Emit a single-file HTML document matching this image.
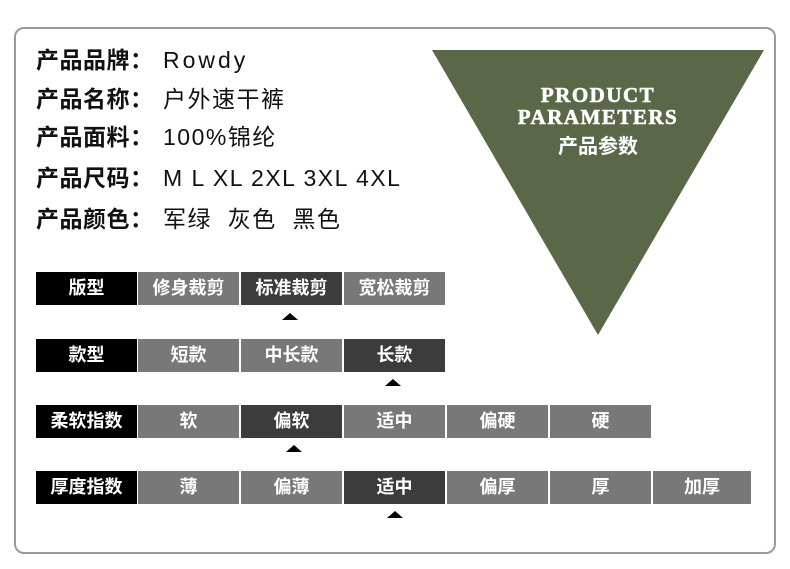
<!DOCTYPE html>
<html><head><meta charset="utf-8"><style>
body{margin:0;width:790px;height:569px;background:#fff;position:relative;overflow:hidden;font-family:"Liberation Sans","Noto Sans CJK SC",sans-serif}
.frame{position:absolute;left:14px;top:27px;width:758px;height:523px;border:2px solid #9a9a9a;border-radius:10px}
.line{position:absolute;left:36px;font-size:23px;color:#111;white-space:nowrap;line-height:26px}
.line b{font-weight:bold;display:inline-block;width:127px;letter-spacing:0.5px}
.line span{letter-spacing:1.5px}
.c{position:absolute;height:33px;line-height:33px;text-align:center;color:#fff;font-weight:bold;font-size:18px;width:101px}
.k{background:#000}.g{background:#787878}.d{background:#3c3c3c}
.a{position:absolute;width:0;height:0;border-left:8px solid transparent;border-right:8px solid transparent;border-bottom:7px solid #000}
</style></head><body>
<div class="frame"></div>
<svg style="position:absolute;left:0;top:0" width="790" height="569"><polygon points="432,50 764,50 598,335" fill="#5a6848"/></svg>
<div style="position:absolute;left:448px;top:84px;width:300px;text-align:center;color:#fff;font-family:'Liberation Serif','Noto Serif CJK SC',serif;font-weight:900;font-size:21px;line-height:22px;letter-spacing:1.5px;-webkit-text-stroke:0.6px #fff">PRODUCT<br>PARAMETERS</div>
<div style="position:absolute;left:498px;top:130px;width:200px;text-align:center;color:#fff;font-weight:bold;font-size:20px">产品参数</div>
<div class="line" style="top:47px"><b>产品品牌：</b><span style="letter-spacing:3px">Rowdy</span></div>
<div class="line" style="top:86px"><b>产品名称：</b><span>户外速干裤</span></div>
<div class="line" style="top:124px"><b>产品面料：</b><span>100%锦纶</span></div>
<div class="line" style="top:165px"><b>产品尺码：</b><span>M L XL 2XL 3XL 4XL</span></div>
<div class="line" style="top:206px"><b>产品颜色：</b><span>军绿&nbsp; 灰色&nbsp; 黑色</span></div>

<div class="c k" style="left:36px;top:272px">版型</div>
<div class="c g" style="left:138px;top:272px">修身裁剪</div>
<div class="c d" style="left:241px;top:272px">标准裁剪</div>
<div class="c g" style="left:344px;top:272px">宽松裁剪</div>
<div class="a" style="left:282px;top:313px"></div>

<div class="c k" style="left:36px;top:339px">款型</div>
<div class="c g" style="left:138px;top:339px">短款</div>
<div class="c g" style="left:241px;top:339px">中长款</div>
<div class="c d" style="left:344px;top:339px">长款</div>
<div class="a" style="left:385px;top:379px"></div>

<div class="c k" style="left:36px;top:405px">柔软指数</div>
<div class="c g" style="left:138px;top:405px">软</div>
<div class="c d" style="left:241px;top:405px">偏软</div>
<div class="c g" style="left:344px;top:405px">适中</div>
<div class="c g" style="left:447px;top:405px">偏硬</div>
<div class="c g" style="left:550px;top:405px">硬</div>
<div class="a" style="left:286px;top:445px"></div>

<div class="c k" style="left:36px;top:471px">厚度指数</div>
<div class="c g" style="left:138px;top:471px">薄</div>
<div class="c g" style="left:241px;top:471px">偏薄</div>
<div class="c d" style="left:344px;top:471px">适中</div>
<div class="c g" style="left:447px;top:471px">偏厚</div>
<div class="c g" style="left:550px;top:471px">厚</div>
<div class="c g" style="left:653px;top:471px;width:98px">加厚</div>
<div class="a" style="left:387px;top:511px"></div>
</body></html>
